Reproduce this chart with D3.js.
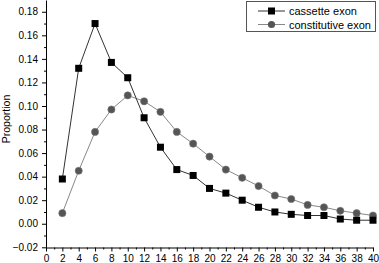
<!DOCTYPE html>
<html>
<head>
<meta charset="utf-8">
<script src="https://cdn.jsdelivr.net/npm/d3@7"></script>
<style>
  body { margin: 0; background: #fff; }
  svg { display: block; font-family: "Liberation Sans", Arial, sans-serif; }
  .axis text { font-size: 10px; fill: #000; }
  .axis path, .axis line { stroke: #000; }
</style>
</head>
<body>
<svg id="chart" width="379" height="263"></svg>
<script>

// Data
const lengths = [2, 4, 6, 8, 10, 12, 14, 16, 18, 20, 22, 24, 26, 28, 30, 32, 34, 36, 38, 40];
const cassette = [0.038, 0.132, 0.170, 0.137, 0.124, 0.090, 0.065, 0.046, 0.041, 0.030,
                  0.026, 0.020, 0.014, 0.010, 0.008, 0.007, 0.007, 0.004, 0.003, 0.003];
const constitutive = [0.009, 0.045, 0.078, 0.097, 0.109, 0.104, 0.095, 0.078, 0.068, 0.057,
                      0.046, 0.039, 0.032, 0.024, 0.021, 0.016, 0.014, 0.011, 0.009, 0.007];
const xTicks = d3.range(0, 41, 2);
const yTicks = [-0.02, 0, 0.02, 0.04, 0.06, 0.08, 0.10, 0.12, 0.14, 0.16, 0.18];
const seriesNames = ["cassette exon", "constitutive exon"];

const svg = d3.select("#chart");

// Scales
const x = d3.scaleLinear().domain([0, 40]).range([46, 373]);
const y = d3.scaleLinear().domain([-0.02, 0.19]).range([247.3, 0]);

// Minor ticks
svg.append("g")
    .attr("class", "axis")
    .attr("transform", "translate(46,0)")
    .call(d3.axisLeft(y).tickValues(d3.range(-0.01, 0.19, 0.02)).tickSize(2).tickSizeOuter(0).tickFormat(""))
    .select(".domain").remove();
svg.append("g")
    .attr("class", "axis")
    .attr("transform", "translate(0,247.5)")
    .call(d3.axisBottom(x).tickValues(d3.range(1, 40, 2)).tickSize(2).tickSizeOuter(0).tickFormat(""))
    .select(".domain").remove();

// Major axes
svg.append("g")
    .attr("class", "axis")
    .attr("transform", "translate(46,0)")
    .call(d3.axisLeft(y).tickValues(yTicks).tickSize(4).tickSizeOuter(0).tickPadding(4)
        .tickFormat(d3.format(".2f")));
svg.append("g")
    .attr("class", "axis")
    .attr("transform", "translate(0,247.5)")
    .call(d3.axisBottom(x).tickValues(xTicks).tickSize(4).tickSizeOuter(0).tickPadding(3)
        .tickFormat(d3.format("d")));

// Y label
svg.append("text")
    .attr("transform", "translate(10,119) rotate(-90)")
    .attr("text-anchor", "middle")
    .style("font-size", "10.5px")
    .text("Proportion");

// Lines
const line = (vals) => d3.line()
    .x((d, i) => x(lengths[i]))
    .y(d => y(d))(vals);

svg.append("path")
    .attr("d", line(constitutive))
    .attr("fill", "none")
    .attr("stroke", "#888")
    .attr("stroke-width", 1);
svg.append("path")
    .attr("d", line(cassette))
    .attr("fill", "none")
    .attr("stroke", "#333")
    .attr("stroke-width", 1);

// Markers
svg.append("g").selectAll("circle")
    .data(constitutive)
    .join("circle")
    .attr("cx", (d, i) => x(lengths[i]))
    .attr("cy", d => y(d))
    .attr("r", 3.6)
    .attr("fill", "#555")
    .attr("stroke", "#777")
    .attr("stroke-width", 0.6);
svg.append("g").selectAll("rect")
    .data(cassette)
    .join("rect")
    .attr("x", (d, i) => x(lengths[i]) - 3.5)
    .attr("y", d => y(d) - 3.5)
    .attr("width", 7)
    .attr("height", 7)
    .attr("fill", "#000");

// Legend
const legend = svg.append("g");
legend.append("rect")
    .attr("x", 246.5).attr("y", 1.5)
    .attr("width", 129).attr("height", 30)
    .attr("fill", "#fff")
    .attr("stroke", "#555")
    .attr("stroke-width", 1);
seriesNames.forEach((name, i) => {
    const ly = 11 + i * 13.5;
    legend.append("line")
        .attr("x1", 258).attr("x2", 285)
        .attr("y1", ly).attr("y2", ly)
        .attr("stroke", i === 0 ? "#333" : "#888");
    if (i === 0) {
        legend.append("rect")
            .attr("x", 268).attr("y", ly - 3.5)
            .attr("width", 7).attr("height", 7)
            .attr("fill", "#000");
    } else {
        legend.append("circle")
            .attr("cx", 271.5).attr("cy", ly)
            .attr("r", 3.6)
            .attr("fill", "#555");
    }
    legend.append("text")
        .attr("x", 289).attr("y", ly + 4)
        .style("font-size", "11px")
        .text(name);
});
</script>
</body>
</html>
